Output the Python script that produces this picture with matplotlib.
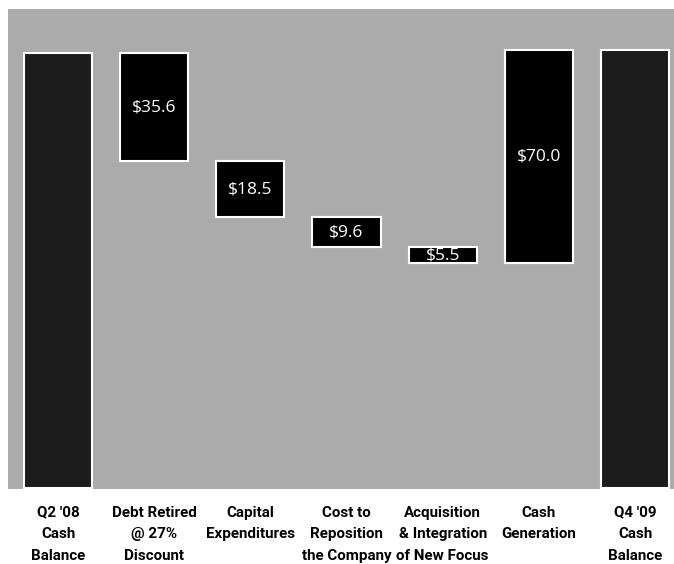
import numpy as np
import matplotlib
matplotlib.use("Agg")
import matplotlib.pyplot as plt

categories = ["Q2 '08\nCash\nBalance", "Debt Retired\n@ 27%\nDiscount", "Capital\nExpenditures",
              "Cost to\nReposition\nthe Company", "Acquisition\n& Integration\nof New Focus",
              "Cash\nGeneration", "Q4 '09\nCash\nBalance"]
start_balance = 143.0
changes = [-35.6, -18.5, -9.6, -5.5, 70.0]
value_labels = ["$35.6", "$18.5", "$9.6", "$5.5", "$70.0"]

# waterfall geometry
bottoms, heights = [0], [start_balance]
level = start_balance
for c in changes:
    new = level + c
    bottoms.append(min(level, new))
    heights.append(abs(c))
    level = new
bottoms.append(0)
heights.append(level)

colors = ["#1c1c1c"] + ["#000000"] * len(changes) + ["#1c1c1c"]

fig = plt.figure(figsize=(6.74, 5.64), dpi=100)
ax = fig.add_axes([8 / 674, 75 / 564, 666 / 674, 480 / 564])
ax.set_facecolor("#ababab")

x = np.arange(len(categories))
ax.bar(x, heights, bottom=bottoms, width=0.71, color=colors,
       edgecolor="white", linewidth=1.5, zorder=3)

for i, lab in enumerate(value_labels, start=1):
    ax.text(x[i], bottoms[i] + heights[i] / 2, lab, color="white",
            ha="center", va="center", fontsize=12.5,
            family=["Open Sans", "DejaVu Sans"], zorder=4)

ax.set_xlim(-0.52, 6.405)
ax.set_ylim(-0.3, 157.4)
ax.set_yticks([])
ax.set_xticks(x)
ax.set_xticklabels(categories, fontsize=10.9, fontweight="bold",
                   family=["Roboto", "DejaVu Sans"], linespacing=1.7)
ax.tick_params(axis="x", length=0, pad=12)
for s in ax.spines.values():
    s.set_visible(False)

fig.savefig("out.png", dpi=100, facecolor="white")
